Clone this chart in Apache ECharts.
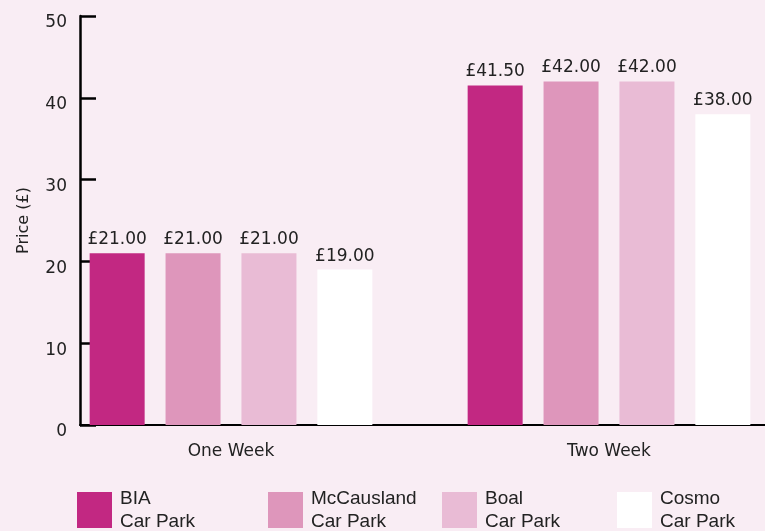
<!DOCTYPE html>
<html><head><meta charset="utf-8">
<script src="https://cdn.jsdelivr.net/npm/echarts@6/dist/echarts.min.js"></script>
<style>html,body{margin:0;padding:0;background:#F9EDF4;}#c{width:765px;height:531px;}</style>
</head><body><div id="c"></div>
<script>
var categories = ['One Week', 'Two Week'];
var seriesNames = ['BIA', 'McCausland', 'Boal', 'Cosmo'];
var legendLabels = ['BIA\nCar Park', 'McCausland\nCar Park', 'Boal\nCar Park', 'Cosmo\nCar Park'];
var biaValues = [21.00, 41.50];
var mccauslandValues = [21.00, 42.00];
var boalValues = [21.00, 42.00];
var cosmoValues = [19.00, 38.00];
var yTicks = [0, 10, 20, 30, 40, 50];
var colors = ['#C22882', '#DE96BB', '#E9BBD5', '#FFFFFF'];
var allValues = [biaValues, mccauslandValues, boalValues, cosmoValues];

var chart = echarts.init(document.getElementById('c'));
var fontA = 'DejaVu Sans';
var legendLefts = [77, 268, 442, 617];

var series = seriesNames.map(function (n, i) {
  return {
    name: n, type: 'bar', xAxisIndex: 1, yAxisIndex: 1,
    data: allValues[i], barWidth: 55, barGap: '38%',
    itemStyle: { color: colors[i] },
    label: {
      show: true, position: 'top', distance: 5,
      fontFamily: fontA, fontSize: 17, color: '#222',
      formatter: function (p) { return '£' + p.value.toFixed(2); }
    }
  };
});

var legends = seriesNames.map(function (n, i) {
  return {
    data: [n], left: legendLefts[i], top: 487, padding: 0,
    icon: 'rect', itemWidth: 35, itemHeight: 36, selectedMode: false,
    formatter: function () { return legendLabels[i]; },
    textStyle: { fontFamily: 'Liberation Sans', fontSize: 19, color: '#222', lineHeight: 23, padding: [0, 0, 0, 3] }
  };
});

chart.setOption({
  backgroundColor: '#F9EDF4',
  animation: false,
  grid: [
    { left: 80, right: 0, top: 16, bottom: 106, outerBoundsMode: 'none' },
    { left: 42, width: 756, top: 16, bottom: 106, outerBoundsMode: 'none' }
  ],
  xAxis: [
    { type: 'category', gridIndex: 0, data: [''], axisLine: { lineStyle: { color: '#000', width: 2 } },
      axisTick: { show: false }, axisLabel: { show: false } },
    { type: 'category', gridIndex: 1, data: categories, axisLine: { show: false }, axisTick: { show: false },
      axisLabel: { fontFamily: fontA, fontSize: 17, color: '#222', margin: 18 } }
  ],
  yAxis: [
    { type: 'value', gridIndex: 0, min: 0, max: 50, interval: 10,
      name: 'Price (£)', nameLocation: 'middle', nameGap: 48, nameRotate: 90,
      nameTextStyle: { fontFamily: fontA, fontSize: 16, color: '#222' },
      axisLine: { show: true, lineStyle: { color: '#000', width: 2.5 } },
      axisTick: { show: true, inside: true, length: 16, lineStyle: { color: '#000', width: 2.5 } },
      axisLabel: { fontFamily: fontA, fontSize: 17, color: '#222', margin: 13,
        verticalAlign: 'top', lineHeight: 14,
        formatter: function (v) { return yTicks.indexOf(v) >= 0 ? String(v) : ''; } },
      splitLine: { show: false } },
    { type: 'value', gridIndex: 1, min: 0, max: 50, interval: 10, show: false }
  ],
  legend: legends,
  series: series
});
</script></body></html>
